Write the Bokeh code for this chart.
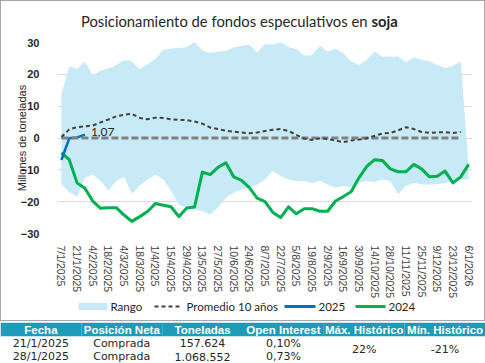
from bokeh.plotting import figure
from bokeh.models import Range1d, FixedTicker, FactorRange
from bokeh.layouts import column
from bokeh.core.properties import value
from bokeh.embed import file_html
from bokeh.resources import INLINE

# ---------------- data ----------------
etiquetas_x = ["7/1/2025", "21/1/2025", "4/2/2025", "18/2/2025", "4/3/2025",
               "18/3/2025", "1/4/2025", "15/4/2025", "29/4/2025", "13/5/2025",
               "27/5/2025", "10/6/2025", "24/6/2025", "8/7/2025", "22/7/2025",
               "5/8/2025", "19/8/2025", "2/9/2025", "16/9/2025", "30/9/2025",
               "14/10/2025", "28/10/2025", "11/11/2025", "25/11/2025",
               "9/12/2025", "23/12/2025", "6/1/2026"]

rango_max = [13.9, 22.4, 21.7, 24.0, 19.8, 21.1, 21.9, 22.9, 24.5, 24.1,
             21.7, 23.2, 24.8, 27.7, 28.1, 28.3, 28.6, 30.2, 27.6, 26.7,
             27.1, 27.4, 28.4, 29.0, 29.3, 26.9, 29.5, 29.3, 30.2, 28.6,
             27.9, 25.8, 26.0, 29.0, 27.1, 28.1, 26.6, 24.1, 22.9, 24.6,
             27.2, 25.5, 25.6, 25.6, 23.8, 25.3, 24.6, 24.1, 22.9, 22.0,
             22.7, 24.1, -9.0]

rango_min = [-14.5, -17.0, -18.5, -12.5, -11.5, -13.5, -16.5, -13.5, -12.2, -17.5,
             -15.0, -13.0, -11.5, -13.0, -16.5, -21.0, -22.0, -22.5, -22.9, -24.0,
             -21.9, -18.8, -17.2, -16.2, -15.8, -14.6, -13.0, -10.4, -12.0, -13.0,
             -13.5, -13.5, -14.1, -13.5, -14.6, -15.6, -15.1, -15.5, -14.1, -13.5,
             -13.8, -13.0, -13.5, -17.7, -15.0, -14.1, -14.6, -14.6, -14.5, -14.1,
             -13.5, -13.0, -13.0]

promedio_10 = [0.3, 2.7, 3.4, 3.7, 3.9, 4.9, 5.8, 6.8, 7.3, 7.6,
               6.3, 5.9, 6.4, 6.3, 5.9, 5.7, 5.6, 5.2, 4.5, 3.3,
               2.8, 2.3, 2.0, 1.7, 1.5, 1.7, 2.2, 2.6, 2.8, 2.2,
               1.0, -0.2, -0.6, -0.1, -0.3, -0.8, -1.3, -0.8, -0.5, -0.1,
               0.7, 1.4, 1.6, 2.4, 3.4, 2.8, 1.9, 1.6, 1.8, 1.8,
               1.6, 1.9]

serie_2025 = [-6.9, -0.1, 0.16, 1.07]

serie_2024 = [-4.7, -6.8, -14.1, -15.8, -19.8, -22.1, -21.9, -21.9, -24.2, -26.2,
              -24.7, -23.1, -20.6, -21.1, -21.6, -24.7, -22.0, -21.7, -10.7, -11.5,
              -9.2, -7.8, -12.2, -13.3, -15.6, -18.9, -20.0, -23.4, -25.0, -21.6,
              -23.8, -22.2, -22.2, -23.0, -23.0, -19.8, -18.4, -16.9, -12.5, -8.9,
              -6.8, -7.1, -9.7, -10.6, -10.6, -8.3, -9.7, -12.2, -12.0, -10.4,
              -14.1, -12.2, -8.3]

linea_cero = [0.0] * len(promedio_10)

titulo = "Posicionamiento de fondos especulativos en"
titulo_negrita = "soja"
leyenda = ["Rango", "Promedio 10 años", "2025", "2024"]

encabezados = ["Fecha", "Posición Neta", "Toneladas", "Open Interest",
               "Máx. Histórico", "Mín. Histórico"]
fechas = ["21/1/2025", "28/1/2025"]
posicion = ["Comprada", "Comprada"]
toneladas = ["157.624", "1.068.552"]
open_interest = ["0,10%", "0,73%"]
max_historico = "22%"
min_historico = "-21%"

semanas = list(range(len(serie_2024)))

TXT = "#262626"
C_RANGO = "#c8eaf7"
C_2024 = "#00b050"
C_2025 = "#0070c0"
C_PROM = "#404040"

W = 483          # inner width of the bordered chart box
BL, BR = 56, 12  # frame borders shared by the stacked strips


def strip(h, yr, bl=BL, br=BR, w=W, xr=None):
    f = figure(width=w, height=h,
               x_range=xr if xr is not None else Range1d(bl, w - br),
               y_range=yr, toolbar_location=None, output_backend="svg",
               min_border_left=bl, min_border_right=br, min_border_top=0,
               min_border_bottom=0, outline_line_color=None,
               x_axis_location=None, y_axis_location=None)
    f.grid.visible = False
    f.background_fill_color = "white"
    f.border_fill_color = "white"
    return f


# ---------------- title strip ----------------
tf = strip(35, Range1d(35, 0))
tf.text(x=[366], y=[19], text=[titulo], text_align="right",
        text_baseline="middle", text_font=value("Lato"),
        text_font_size="14.8px", text_color=TXT)
tf.text(x=[370], y=[19], text=[titulo_negrita], text_align="left",
        text_baseline="middle", text_font=value("Lato"), text_font_style="bold",
        text_font_size="14.8px", text_color=TXT)

# ---------------- chart ----------------
p = figure(width=W, height=265, x_range=Range1d(-0.5, 52.5),
           y_range=Range1d(-30, 30), toolbar_location=None,
           output_backend="svg", min_border_left=BL, min_border_right=BR,
           min_border_top=6, min_border_bottom=67, outline_line_color=None)
p.background_fill_color = "white"
p.border_fill_color = "white"

p.xgrid.visible = False
p.ygrid.grid_line_color = "#d9d9d9"
p.ygrid.grid_line_width = 1

yt = FixedTicker(ticks=[-30, -20, -10, 0, 10, 20, 30])
p.yaxis.ticker = yt
p.ygrid.ticker = yt
p.yaxis.axis_line_color = None
p.yaxis.major_tick_line_color = None
p.yaxis.minor_tick_line_color = None
p.yaxis.major_label_standoff = 12
p.yaxis.major_label_text_font = "Liberation Sans"
p.yaxis.major_label_text_font_style = "bold"
p.yaxis.major_label_text_font_size = "11px"
p.yaxis.major_label_text_color = TXT
p.yaxis.axis_label = "Millones de toneladas"
p.yaxis.axis_label_text_font = "Liberation Sans"
p.yaxis.axis_label_text_font_style = "normal"
p.yaxis.axis_label_text_font_size = "11px"
p.yaxis.axis_label_text_color = TXT
p.yaxis.axis_label_standoff = -10

xt = FixedTicker(ticks=semanas[::2])
p.xaxis.ticker = xt
p.xaxis.major_label_overrides = {i: lab for i, lab in zip(semanas[::2], etiquetas_x)}
p.xaxis.major_label_orientation = "vertical"
p.xaxis.major_label_standoff = 6
p.xaxis.axis_line_color = None
p.xaxis.major_tick_line_color = None
p.xaxis.minor_tick_line_color = None
p.xaxis.major_label_text_font = "Liberation Sans"
p.xaxis.major_label_text_font_size = "10.5px"
p.xaxis.major_label_text_color = "#404040"

p.varea(x=semanas, y1=rango_min, y2=rango_max, fill_color=C_RANGO)
p.line(semanas, serie_2024, line_color=C_2024, line_width=3, line_join="round")
p.line(semanas[:len(serie_2025)], serie_2025, line_color=C_2025, line_width=2.5)
p.line(semanas[:len(linea_cero)], linea_cero, line_color="#808080",
       line_width=3, line_dash="7 3")
p.line(semanas[:len(promedio_10)], promedio_10, line_color=C_PROM,
       line_width=2, line_dash="4 3")

ult = len(serie_2025) - 1
p.text(x=[semanas[ult]], y=[serie_2025[ult]],
       text=[f"{serie_2025[ult]:.2f}".replace(".", ",")],
       x_offset=6, y_offset=-3, text_font=value("Lato"), text_font_size="12px",
       text_baseline="middle", text_align="left", text_color=TXT)

# ---------------- legend strip ----------------
lf = strip(19, Range1d(19, 0))
LY = 5
lf.rect(x=[91.5], y=[LY], width=29, height=7, fill_color=C_RANGO, line_color=None)
lf.segment(x0=[153], y0=[LY], x1=[181], y1=[LY], line_color=C_PROM,
           line_width=2, line_dash="4 3")
lf.segment(x0=[283], y0=[LY], x1=[314], y1=[LY], line_color=C_2025, line_width=3)
lf.segment(x0=[354], y0=[LY], x1=[384], y1=[LY], line_color=C_2024, line_width=3)
lf.text(x=[109, 185, 317, 387], y=[LY] * 4, text=leyenda, text_align="left",
        text_baseline="middle", text_font=value("Lato"),
        text_font_size="11.5px", text_color=TXT)

# ---------------- table ----------------
t = strip(42, Range1d(2.518, -0.593), bl=0, br=0, w=485,
          xr=FactorRange(*encabezados))
t.rect(x=encabezados, y=[0] * len(encabezados), width=1, height=1,
       fill_color="#1c9cb8", line_color=None)
t.text(x=encabezados, y=[0] * len(encabezados), text=encabezados,
       text_align="center", text_baseline="middle", text_color="white",
       text_font=value("Liberation Sans"), text_font_style="bold",
       text_font_size="11.5px")

cols = [fechas, posicion, toneladas, open_interest]
tx, ty, tt = [], [], []
for c, vals in enumerate(cols):
    for r, v in enumerate(vals):
        tx.append(encabezados[c])
        ty.append(r + 1)
        tt.append(v)
tx += [encabezados[4], encabezados[5]]
ty += [1.5, 1.5]
tt += [max_historico, min_historico]
t.text(x=tx, y=ty, text=tt, text_align="center", text_baseline="middle",
       text_color=TXT, text_font=value("DejaVu Sans"), text_font_size="11px")

chart = column(tf, p, lf, spacing=0, styles={"border": "1px solid #a6a6a6"})
layout = column(chart, t, spacing=0)
open("out.html", "w").write(file_html(layout, INLINE))
